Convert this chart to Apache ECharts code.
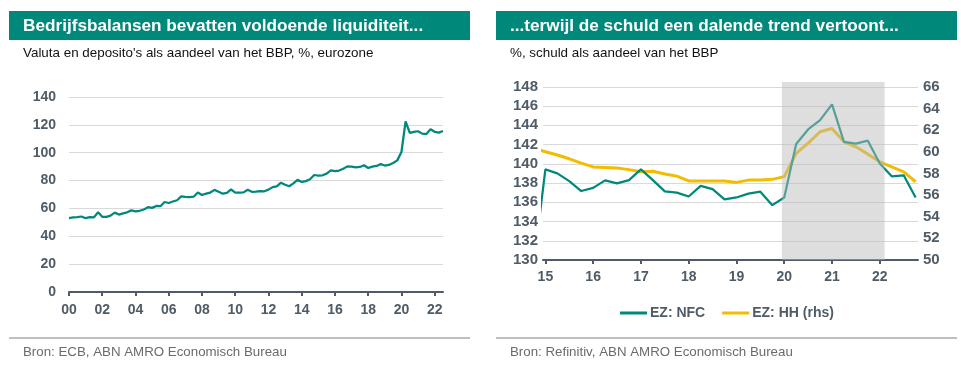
<!DOCTYPE html>
<html>
<head>
<meta charset="utf-8">
<script src="https://cdn.jsdelivr.net/npm/echarts@6/dist/echarts.min.js"></script>
<style>
html,body{margin:0;padding:0;background:#fff;}
#c{width:961px;height:367px;}
</style>
</head>
<body>
<div id="c"></div>
<script>
// ---- Left chart: currency & deposits as % of GDP, eurozone (quarterly, 2000Q1 - 2022Q3)
const leftStartYear = 2000;
const deposits = [
  53.1, 53.6, 53.8, 54.2,
  53.0, 53.8, 53.6, 57.3,
  54.0, 53.9, 54.8, 57.0,
  55.6, 56.5, 57.2, 58.6,
  57.9, 58.3, 59.2, 60.9,
  60.4, 61.8, 61.6, 64.6,
  63.9, 65.0, 65.9, 68.7,
  68.3, 68.2, 68.4, 71.4,
  69.6, 70.6, 71.4, 73.3,
  72.0, 70.6, 71.1, 73.6,
  71.4, 71.3, 71.5, 73.4,
  71.9, 72.0, 72.4, 72.3,
  73.5, 75.3, 75.9, 78.5,
  77.0, 75.9, 78.0, 80.5,
  79.0, 79.6, 81.0, 84.0,
  83.6, 83.8, 85.0, 87.3,
  86.8, 87.2, 88.5, 90.2,
  90.0, 89.5, 89.8, 91.0,
  89.0, 90.0, 90.5, 91.8,
  90.8, 91.2, 92.6, 94.5,
  100.5, 122.5, 114.2, 114.9,
  115.4, 113.7, 113.4, 116.8,
  115.0, 114.4, 115.6
];
const leftYearTicks = [2000, 2002, 2004, 2006, 2008, 2010, 2012, 2014, 2016, 2018, 2020, 2022];
const leftValueTicks = [0, 20, 40, 60, 80, 100, 120, 140];

// ---- Right chart: debt as % of GDP (quarterly, 2014Q4 - 2022Q4)
const rightStartYear = 2014.75;
const nfc = [129.3,
  139.42, 139.0, 138.2, 137.17,
  137.5, 138.28, 137.96, 138.31,
  139.42, 138.3, 137.13, 137.0,
  136.6, 137.7, 137.37, 136.3,
  136.5, 136.9, 137.1, 135.7,
  136.5, 142.05, 143.57, 144.54,
  146.17, 142.28, 142.1, 142.4,
  140.04, 138.7, 138.8, 136.5];
const hh = [60.35,
  60.0, 59.7, 59.35, 58.95,
  58.6, 58.55, 58.5, 58.35,
  58.15, 58.2, 57.95, 57.75,
  57.3, 57.3, 57.3, 57.3,
  57.17, 57.38, 57.4, 57.45,
  57.7, 59.85, 60.8, 61.85,
  62.15, 60.92, 60.46, 59.78,
  59.07, 58.6, 58.15, 57.23];
const rightYearTicks = [2015, 2016, 2017, 2018, 2019, 2020, 2021, 2022];
const rightLeftTicks = [130, 132, 134, 136, 138, 140, 142, 144, 146, 148];
const rightRightTicks = [50, 52, 54, 56, 58, 60, 62, 64, 66];
const covidBand = [2019.95, 2022.1];
const seriesNames = ['EZ: NFC', 'EZ: HH (rhs)'];

const titles = ['Bedrijfsbalansen bevatten voldoende liquiditeit...', '...terwijl de schuld een dalende trend vertoont...'];
const subtitles = ["Valuta en deposito's als aandeel van het BBP, %, eurozone", '%, schuld als aandeel van het BBP'];
const sources = ['Bron: ECB, ABN AMRO Economisch Bureau', 'Bron: Refinitiv, ABN AMRO Economisch Bureau'];

// ---- build
const GREEN = '#00897b';
const YELLOW = '#f2bd00';
const AXIS = '#4f5b66';
const FONT = 'Liberation Sans, Arial, sans-serif';

const leftData = deposits.map((v, i) => [leftStartYear + i * 0.25, v]);
const nfcData = nfc.map((v, i) => [rightStartYear + i * 0.25, v]);
const hhData = hh.map((v, i) => [rightStartYear + i * 0.25, v]);

const yy = v => String(Math.round(v) % 100).padStart(2, '0');
const axisLabelStyle = {color: AXIS, fontFamily: FONT, fontWeight: 'bold', fontSize: 14};
const rightYLabelStyle = {color: AXIS, fontFamily: FONT, fontWeight: 'bold', fontSize: 15};

const chart = echarts.init(document.getElementById('c'), null, {renderer: 'canvas'});

const graphic = [];
[9, 496].forEach((x, k) => {
  graphic.push({type: 'rect', left: x, top: 11, shape: {width: 461, height: 29}, style: {fill: GREEN}, silent: true});
  graphic.push({type: 'text', x: x + 14, y: 26, style: {text: titles[k], fill: '#ffffff', font: 'bold 17.2px ' + FONT, textVerticalAlign: 'middle'}});
  graphic.push({type: 'text', x: x + 14, y: 53, style: {text: subtitles[k], fill: '#111111', font: '13.4px ' + FONT, textVerticalAlign: 'middle'}});
  graphic.push({type: 'rect', left: x, top: 337, shape: {width: 461, height: 2}, style: {fill: '#bfbfbf'}, silent: true});
  graphic.push({type: 'text', x: x + 14, y: 352, style: {text: sources[k], fill: '#6b6b6b', font: '13.3px ' + FONT, textVerticalAlign: 'middle'}});
});

const option = {
  animation: false,
  backgroundColor: '#ffffff',
  graphic: graphic,
  legend: {
    data: seriesNames,
    left: 615, top: 301,
    icon: 'rect', itemWidth: 27, itemHeight: 3, itemGap: 17,
    textStyle: {color: AXIS, fontFamily: FONT, fontWeight: 'bold', fontSize: 14, padding: [0, 0, 0, -2]}
  },
  grid: [
    {left: 69, top: 97, width: 374, height: 195},
    {left: 543, top: 82, width: 375, height: 178}
  ],
  xAxis: [
    {
      gridIndex: 0, type: 'value', min: 2000, max: 2022.5,
      axisLine: {show: true, lineStyle: {color: AXIS, width: 2}},
      axisTick: {show: true, length: 4, lineStyle: {color: AXIS, width: 2}, customValues: leftYearTicks},
      axisLabel: Object.assign({margin: 11, formatter: yy, customValues: leftYearTicks}, axisLabelStyle),
      splitLine: {show: false}
    },
    {
      gridIndex: 1, type: 'value', min: 2014.95, max: 2022.8,
      axisLine: {show: true, lineStyle: {color: AXIS, width: 2}},
      axisTick: {show: true, length: 4, lineStyle: {color: AXIS, width: 2}, customValues: rightYearTicks},
      axisLabel: Object.assign({margin: 10, formatter: yy, customValues: rightYearTicks}, axisLabelStyle),
      splitLine: {show: false}
    }
  ],
  yAxis: [
    {
      gridIndex: 0, type: 'value', min: 0, max: 140, interval: 20,
      axisLine: {show: false}, axisTick: {show: false},
      axisLabel: Object.assign({margin: 13, customValues: leftValueTicks}, axisLabelStyle),
      splitLine: {show: true, lineStyle: {color: '#d9d9d9', width: 1}}
    },
    {
      gridIndex: 1, type: 'value', min: 130, max: 148.5, interval: 2,
      axisLine: {show: false}, axisTick: {show: false},
      axisLabel: Object.assign({margin: 5, customValues: rightLeftTicks}, rightYLabelStyle),
      splitLine: {show: true, showMaxLine: false, lineStyle: {color: '#d9d9d9', width: 1}}
    },
    {
      gridIndex: 1, type: 'value', position: 'right', min: 50, max: 50 + 16 * 18.5 / 18, interval: 2,
      axisLine: {show: false}, axisTick: {show: false},
      axisLabel: Object.assign({margin: 5, customValues: rightRightTicks}, rightYLabelStyle),
      splitLine: {show: false}
    }
  ],
  series: [
    {
      type: 'line', name: 'deposits', xAxisIndex: 0, yAxisIndex: 0, data: leftData,
      showSymbol: false, symbol: 'none', lineStyle: {color: GREEN, width: 2.25}, itemStyle: {color: GREEN}, z: 3
    },
    {
      type: 'line', name: seriesNames[0], xAxisIndex: 1, yAxisIndex: 1, data: nfcData,
      showSymbol: false, symbol: 'none', lineStyle: {color: GREEN, width: 2.25}, itemStyle: {color: GREEN}, z: 3
    },
    {
      type: 'line', name: seriesNames[1], xAxisIndex: 1, yAxisIndex: 2, data: hhData,
      showSymbol: false, symbol: 'none', lineStyle: {color: YELLOW, width: 3}, itemStyle: {color: YELLOW}, z: 2,
      markArea: {
        silent: true, z: 5,
        itemStyle: {color: 'rgba(185,185,185,0.48)'},
        data: [[{xAxis: covidBand[0]}, {xAxis: covidBand[1]}]]
      }
    }
  ]
};
chart.setOption(option);
</script>
</body>
</html>
